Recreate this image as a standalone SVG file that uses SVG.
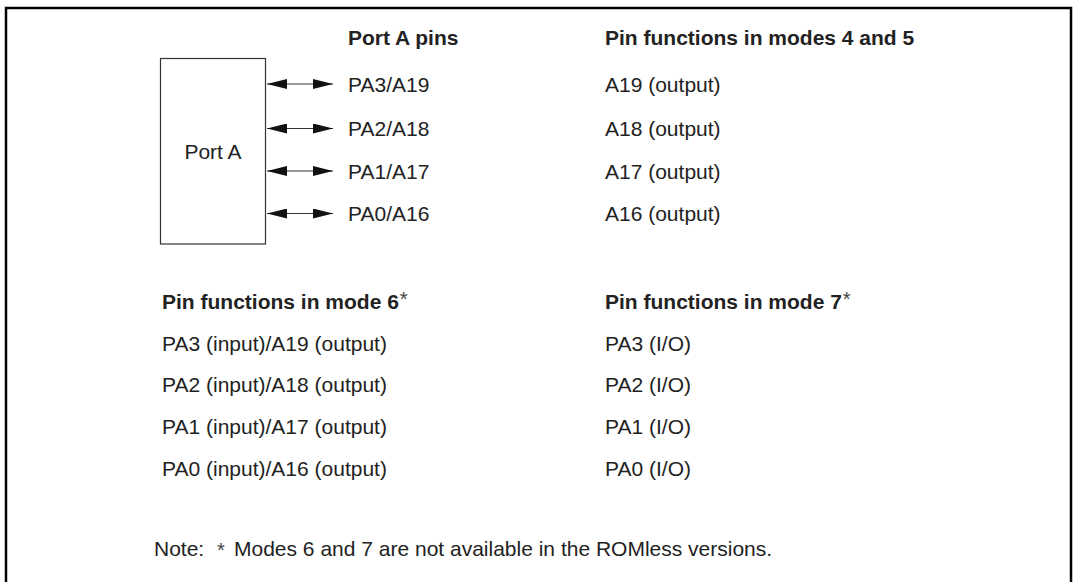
<svg xmlns="http://www.w3.org/2000/svg" width="1075" height="582" viewBox="0 0 1075 582">
<style>
text{font-family:"Liberation Sans",Arial,sans-serif;font-size:21px;fill:#222}
.b{font-weight:bold}
.ast{font-weight:normal;font-size:20px;fill:#444}
.conn{stroke:#333;stroke-width:1.2;fill:none}
</style>
<defs>
<marker id="ah" viewBox="0 0 20 10" refX="20" refY="5" markerWidth="20" markerHeight="10" markerUnits="userSpaceOnUse" orient="auto-start-reverse">
<path d="M0,0 L20,5 L0,10 Z" fill="#111"/>
</marker>
</defs>
<rect x="6" y="8" width="1065" height="600" fill="#fff" stroke="#000" stroke-width="2.5"/>
<g id="portA">
<rect x="160.5" y="58.5" width="105" height="185.5" fill="#fff" stroke="#333" stroke-width="1.2"/>
<text x="213" y="159" text-anchor="middle">Port A</text>
</g>
<g id="connectors">
<line class="conn" x1="267" y1="84" x2="333" y2="84" marker-start="url(#ah)" marker-end="url(#ah)"/>
<line class="conn" x1="267" y1="128.5" x2="333" y2="128.5" marker-start="url(#ah)" marker-end="url(#ah)"/>
<line class="conn" x1="267" y1="171" x2="333" y2="171" marker-start="url(#ah)" marker-end="url(#ah)"/>
<line class="conn" x1="267" y1="213.5" x2="333" y2="213.5" marker-start="url(#ah)" marker-end="url(#ah)"/>
</g>
<g id="pins">
<text class="b" x="348" y="45">Port A pins</text>
<text x="348" y="92">PA3/A19</text>
<text x="348" y="136">PA2/A18</text>
<text x="348" y="178.5">PA1/A17</text>
<text x="348" y="221">PA0/A16</text>
</g>
<g id="modes45">
<text class="b" x="605" y="45">Pin functions in modes 4 and 5</text>
<text x="605" y="92">A19 (output)</text>
<text x="605" y="136">A18 (output)</text>
<text x="605" y="178.5">A17 (output)</text>
<text x="605" y="221">A16 (output)</text>
</g>
<g id="mode6">
<text class="b" x="162" y="308.5">Pin functions in mode 6<tspan class="ast" dx="1" dy="-3">*</tspan></text>
<text x="162" y="350.5">PA3 (input)/A19 (output)</text>
<text x="162" y="392">PA2 (input)/A18 (output)</text>
<text x="162" y="434">PA1 (input)/A17 (output)</text>
<text x="162" y="476">PA0 (input)/A16 (output)</text>
</g>
<g id="mode7">
<text class="b" x="605" y="308.5">Pin functions in mode 7<tspan class="ast" dx="1" dy="-3">*</tspan></text>
<text x="605" y="350.5">PA3 (I/O)</text>
<text x="605" y="392">PA2 (I/O)</text>
<text x="605" y="434">PA1 (I/O)</text>
<text x="605" y="476">PA0 (I/O)</text>
</g>
<g id="note">
<text x="154" y="555.5">Note:</text>
<text x="217" y="557" style="font-size:20px;fill:#444">*</text>
<text x="234" y="555.5">Modes 6 and 7 are not available in the ROMless versions.</text>
</g>
</svg>
